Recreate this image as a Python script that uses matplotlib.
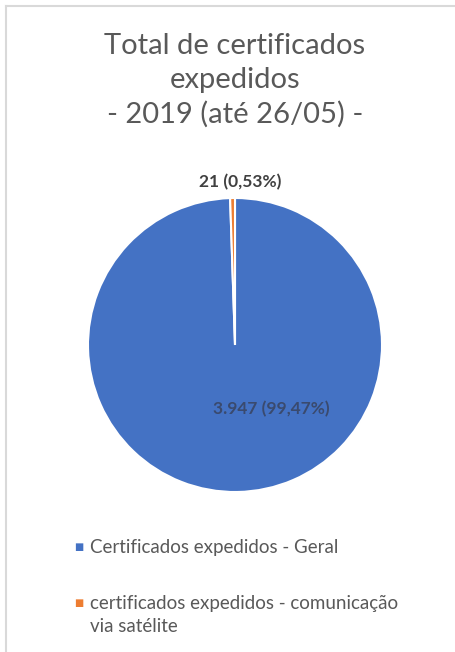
import matplotlib.pyplot as plt
from matplotlib.lines import Line2D

categorias = ["Certificados expedidos - Geral",
              "certificados expedidos - comunicação\nvia satélite"]
valores = [3947, 21]
rotulos = ["3.947 (99,47%)", "21 (0,53%)"]
cores = ["#4472C4", "#ED7D31"]

plt.rcParams['font.family'] = ['Lato', 'DejaVu Sans']

W, H = 455, 652
fig = plt.figure(figsize=(W / 100, H / 100), dpi=100)

# moldura cinza (topo e esquerda)
fig.add_artist(Line2D([6 / W, 6 / W], [0, 1 - 6 / H], color="#d9d9d9", lw=1.5))
fig.add_artist(Line2D([6 / W, 1], [1 - 6 / H, 1 - 6 / H], color="#d9d9d9", lw=1.5))

# pizza
cx, cy, r = 235, 345, 147
ax = fig.add_axes([(cx - r) / W, 1 - (cy + r) / H, 2 * r / W, 2 * r / H])
ax.pie(valores, colors=cores, startangle=90, counterclock=False,
       wedgeprops=dict(edgecolor="white", linewidth=1.5))
ax.set_aspect("auto")
ax.set_xlim(-1, 1)
ax.set_ylim(-1, 1)
ax.axis("off")

fig.text(271 / W, 1 - 409 / H, rotulos[0], ha="center", va="center",
         fontsize=12.5, fontweight="bold", color="#3a4a6e")
fig.text(240 / W, 1 - 182 / H, rotulos[1], ha="center", va="center",
         fontsize=12.5, fontweight="bold", color="#404040")

# titulo
titulo = ["Total de certificados", "expedidos", "- 2019 (até 26/05) -"]
for linha, y in zip(titulo, [46, 80, 114]):
    fig.text(235 / W, 1 - y / H, linha, ha="center", va="center",
             fontsize=21, color="#595959")

# legenda
for i, (cat, y) in enumerate(zip(categorias, [547, 603])):
    fig.text(79 / W, 1 - y / H, "■", ha="center", va="center", fontsize=7,
             color=cores[i], family="DejaVu Sans")
    fig.text(90 / W, 1 - y / H, cat.split("\n")[0], ha="left", va="center",
             fontsize=13.5, color="#595959")
    if "\n" in cat:
        fig.text(90 / W, 1 - (y + 24) / H, cat.split("\n")[1], ha="left", va="center",
                 fontsize=13.5, color="#595959")

fig.savefig("out.png", dpi=100, facecolor="white")
